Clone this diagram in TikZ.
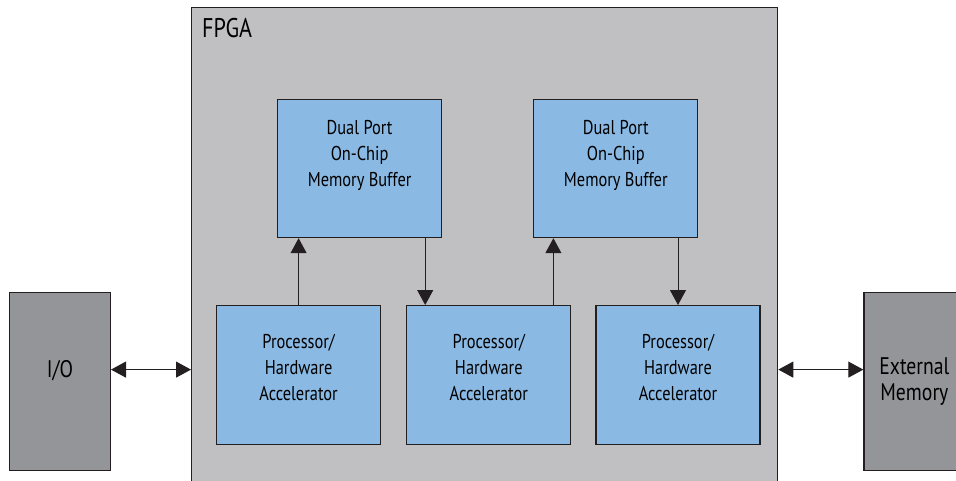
\documentclass[tikz,border=0pt]{standalone}
\usepackage{fontspec}
\setmainfont{PT Sans}[FakeStretch=0.82]
\usepackage{xcolor}
\usepackage{tikz}
\usetikzlibrary{positioning}
\usetikzlibrary{arrows.meta}

\definecolor{fpgagray}{HTML}{C0C0C2}
\definecolor{extgray}{HTML}{949599}
\definecolor{blockblue}{HTML}{8AB9E3}
\definecolor{edgeblack}{HTML}{231F20}

\tikzset{
  fpgabox/.style={draw=edgeblack, line width=1.3pt, fill=fpgagray, rectangle,
    minimum width=586pt, minimum height=490pt, inner sep=0pt, anchor=north west},
  membox/.style={draw=edgeblack, line width=1.2pt, fill=blockblue, rectangle,
    minimum width=164pt, minimum height=138pt, inner sep=0pt, align=center,
    font=\fontsize{20}{26}\selectfont, text depth=30pt},
  procbox/.style={draw=edgeblack, line width=1.2pt, fill=blockblue, rectangle,
    minimum width=164pt, minimum height=139pt, inner sep=0pt, align=center,
    font=\fontsize{20}{26}\selectfont, text depth=16pt},
  outbox/.style={draw=edgeblack, line width=1.2pt, fill=extgray, rectangle,
    minimum width=101pt, minimum height=178pt, inner sep=0pt, align=center,
    font=\fontsize{24}{26}\selectfont},
  link/.style={draw=edgeblack, line width=1pt}
}

\begin{document}
\begin{tikzpicture}[x=1pt, y=-1pt, >={Triangle[length=15pt,width=16pt]}, ->]
    \useasboundingbox (0,0) rectangle (956,480);

    % FPGA container
    \node (fpga) [fpgabox] at (191,7) {};
    \node (fpgalabel) [inner sep=0pt, font=\fontsize{27}{30}\selectfont,
                       below right=30pt and 11pt of fpga.north west, anchor=base west] {FPGA};

    % Memory buffers
    \node (mbufA) [membox, below right=92pt and 86pt of fpga.north west]
                  {Dual Port \\ On-Chip \\ Memory Buffer};
    \node (mbufB) [membox, right=91pt of mbufA]
                  {Dual Port \\ On-Chip \\ Memory Buffer};

    % Processor row
    \node (procA) [procbox, below right=298pt and 25pt of fpga.north west]
                  {Processor/ \\ Hardware \\ Accelerator};
    \node (procB) [procbox, right=25pt of procA]
                  {Processor/ \\ Hardware \\ Accelerator};
    \node (procC) [procbox, right=24pt of procB]
                  {Processor/ \\ Hardware \\ Accelerator};

    % Outside the FPGA
    \node (io)    [outbox, text depth=26pt, below left=285pt and 80pt of fpga.north west] {I/O};
    \node (extmem)[outbox, below right=285pt and 85pt of fpga.north east]
                  {External \\ Memory};

    % Arrows
    \coordinate (downA) at ([xshift=-17pt]mbufA.south east);
    \coordinate (upB)   at ([xshift=-18pt]procB.north east);
    \coordinate (ioport) at ([yshift=12pt]io.east);
    \coordinate (extport) at ([yshift=12pt]extmem.west);

    \draw [link] (procA.north) -- (procA.north |- mbufA.south);
    \draw [link] (downA) -- (downA |- procB.north);
    \draw [link] (upB) -- (upB |- mbufB.south);
    \draw [link] (mbufB.south -| procC.north) -- (procC.north);

    \draw [link, <->] (ioport) -- (ioport -| fpga.west);
    \draw [link, <->] (extport -| fpga.east) -- (extport);
  \end{tikzpicture}
\end{document}
